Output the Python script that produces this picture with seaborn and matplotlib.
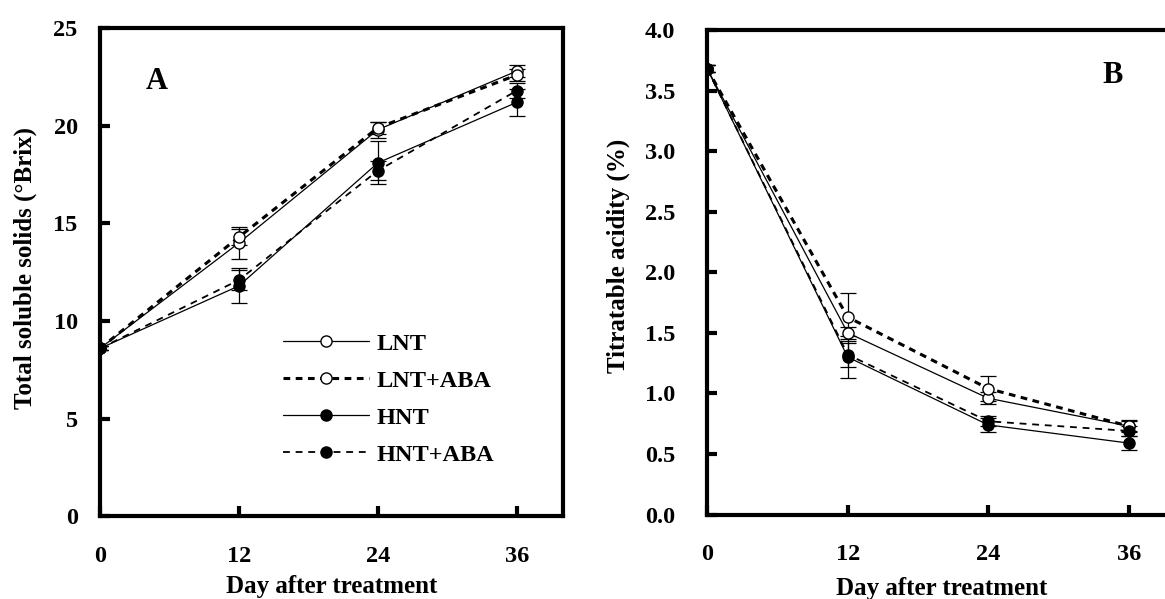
import matplotlib
matplotlib.use("Agg")
import matplotlib.pyplot as plt
import numpy as np
import pandas as pd
import seaborn as sns

# Data
days = [0, 12, 24, 36]
series = ["LNT", "LNT+ABA", "HNT", "HNT+ABA"]

# Panel A: total soluble solids (°Brix)
tss_lnt = [8.6, 14.0, 19.8, 22.8]
tss_lnt_aba = [8.6, 14.3, 19.9, 22.6]
tss_hnt = [8.6, 11.8, 18.1, 21.2]
tss_hnt_aba = [8.6, 12.1, 17.7, 21.8]
tss_err_lnt = [0.1, 0.8, 0.4, 0.3]
tss_err_lnt_aba = [0.1, 0.4, 0.3, 0.3]
tss_err_hnt = [0.1, 0.9, 1.1, 0.7]
tss_err_hnt_aba = [0.1, 0.5, 0.5, 0.4]

# Panel B: titratable acidity (%)
ta_lnt = [3.68, 1.50, 0.96, 0.73]
ta_lnt_aba = [3.68, 1.63, 1.04, 0.73]
ta_hnt = [3.68, 1.30, 0.74, 0.59]
ta_hnt_aba = [3.68, 1.32, 0.77, 0.69]
ta_err_lnt = [0.03, 0.05, 0.05, 0.04]
ta_err_lnt_aba = [0.03, 0.20, 0.10, 0.05]
ta_err_hnt = [0.03, 0.17, 0.06, 0.06]
ta_err_hnt_aba = [0.03, 0.10, 0.04, 0.04]

sns.set_style("ticks", {"axes.edgecolor": "black", "xtick.color": "black",
                        "ytick.color": "black", "text.color": "black",
                        "axes.labelcolor": "black"})
plt.rcParams['font.family'] = ['Liberation Serif', 'DejaVu Serif']
plt.rcParams['font.weight'] = 'bold'

styles = {
    "LNT": dict(lw=0.9, mfc='white', dashes=None),
    "LNT+ABA": dict(lw=2.2, mfc='white', dashes=(2.2, 1.8)),
    "HNT": dict(lw=0.9, mfc='black', dashes=None),
    "HNT+ABA": dict(lw=1.3, mfc='black', dashes=(3.8, 3.2)),
}


def draw_panel(ax, vals, errs, ylim, yticks, ylabel, ypad, ylab_xy, xlab_y,
               letter, letter_pos, legend=False):
    for name, v, e in zip(series, vals, errs):
        st = styles[name]
        df = pd.DataFrame({"day": days, "val": v})
        kw = dict(color='black', lw=st['lw'], marker='o', markersize=8,
                  markerfacecolor=st['mfc'], markeredgecolor='black',
                  markeredgewidth=1.0, label=name)
        if st['dashes'] is not None:
            kw['dashes'] = st['dashes']
        sns.lineplot(data=df, x="day", y="val", ax=ax, **kw)
        ax.errorbar(days, v, yerr=e, fmt='none', ecolor='black',
                    elinewidth=0.9, capsize=5.5, capthick=0.9, zorder=1)
    ax.set_xlim(0, 40)
    ax.set_ylim(*ylim)
    ax.set_xticks(days)
    ax.set_yticks(yticks)
    ax.tick_params(direction='in', length=7, width=3, labelsize=17.5, pad=21, axis='x')
    ax.tick_params(direction='in', length=7, width=3, labelsize=17.5, pad=ypad, axis='y')
    for s in ax.spines.values():
        s.set_linewidth(3)
    ax.set_xlabel("Day after treatment", fontsize=18, fontweight='bold')
    ax.set_ylabel(ylabel, fontsize=18, fontweight='bold')
    ax.xaxis.set_label_coords(0.5, xlab_y)
    ax.yaxis.set_label_coords(*ylab_xy)
    ax.text(letter_pos[0], letter_pos[1], letter, transform=ax.transAxes,
            fontsize=22, fontweight='bold', ha='center', va='center')
    if legend:
        ax.legend(loc='center left', bbox_to_anchor=(0.395, 0.24), frameon=False,
                  fontsize=17.5, handlelength=3.55, handletextpad=0.3,
                  labelspacing=0.62, borderaxespad=0, borderpad=0)
    else:
        leg = ax.get_legend()
        if leg is not None:
            leg.remove()


fig = plt.figure(figsize=(11.65, 5.99), dpi=100)
ax1 = fig.add_axes([0.0858, 0.138, 0.3975, 0.815])
ax2 = fig.add_axes([0.607, 0.141, 0.402, 0.809])

draw_panel(ax1, [tss_lnt, tss_lnt_aba, tss_hnt, tss_hnt_aba],
           [tss_err_lnt, tss_err_lnt_aba, tss_err_hnt, tss_err_hnt_aba],
           (0, 25), [0, 5, 10, 15, 20, 25], "Total soluble solids (°Brix)",
           16, (-0.137, 0.509), -0.121, "A", (0.123, 0.89), legend=True)
draw_panel(ax2, [ta_lnt, ta_lnt_aba, ta_hnt, ta_hnt_aba],
           [ta_err_lnt, ta_err_lnt_aba, ta_err_hnt, ta_err_hnt_aba],
           (0, 4.0), np.arange(0, 4.01, 0.5), "Titratable acidity (%)",
           23, (-0.165, 0.534), -0.128, "B", (0.865, 0.905))
ax2.set_yticklabels([f"{t:.1f}" for t in np.arange(0, 4.01, 0.5)])

fig.savefig("out.png", dpi=100)
